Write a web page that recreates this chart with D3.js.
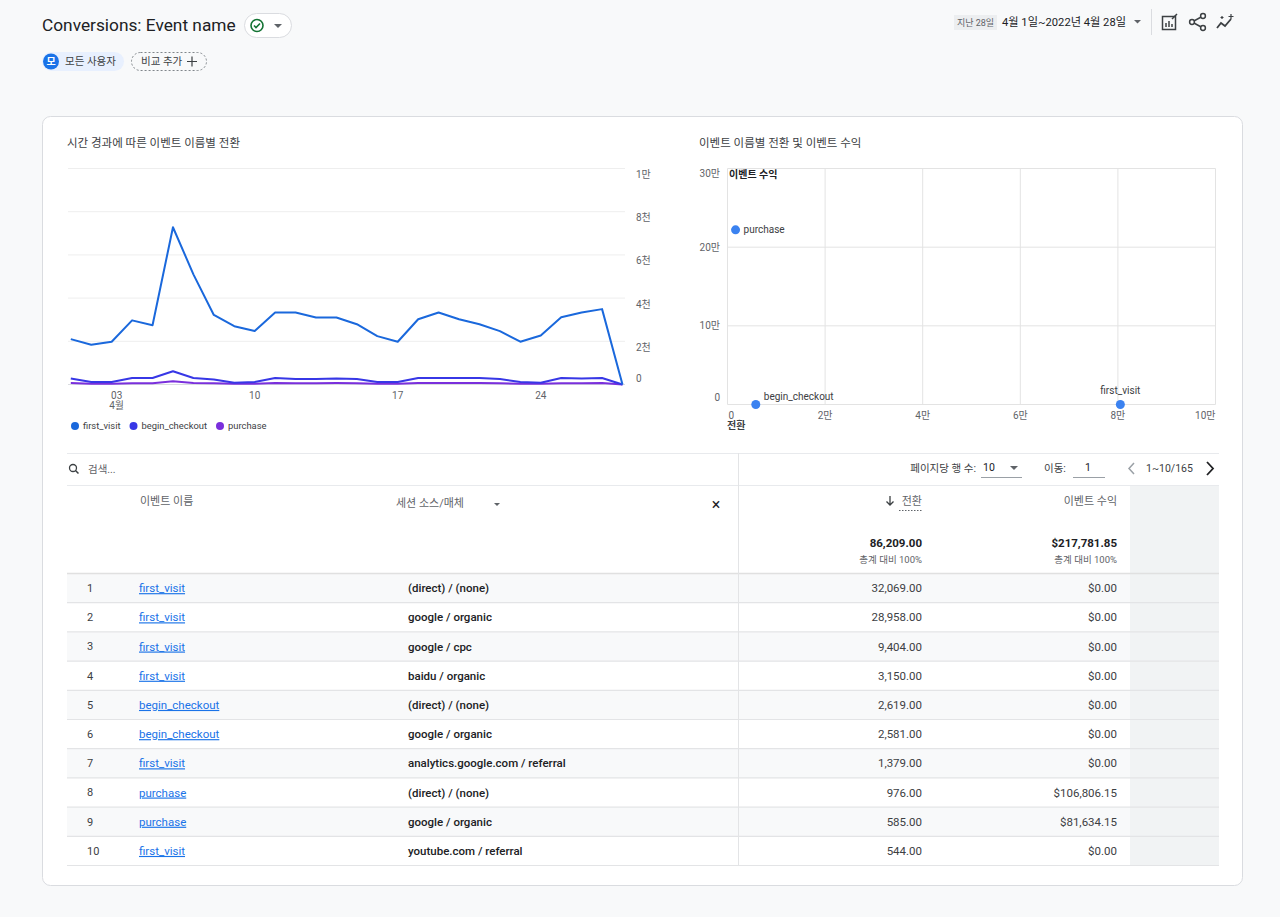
<!DOCTYPE html>
<html>
<head>
<meta charset="utf-8">
<script src="https://cdn.jsdelivr.net/npm/d3@7"></script>
<style>
html, body { margin: 0; padding: 0; background: #f8f9fa; }
svg { display: block; font-family: Roboto, "Noto Sans CJK KR", sans-serif; }
</style>
</head>
<body>
<svg id="page" width="1280" height="917"></svg>
<script>
// ---- data ----
const days = [1,2,3,4,5,6,7,8,9,10,11,12,13,14,15,16,17,18,19,20,21,22,23,24,25,26,27,28];
const firstVisit = [2100,1840,1980,2970,2740,7280,5100,3220,2700,2480,3330,3330,3100,3100,2790,2240,1980,3020,3330,3020,2790,2470,1980,2270,3110,3330,3490,0];
const beginCheckout = [280,120,120,300,300,610,300,230,80,120,300,250,250,280,250,120,120,300,300,300,300,250,120,80,300,280,300,0];
const purchase = [70,40,40,60,60,150,70,60,30,40,70,60,60,70,60,40,40,70,70,70,70,60,40,30,60,60,70,0];
const seriesNames = ['first_visit', 'begin_checkout', 'purchase'];
const seriesColors = ['#1a68dc', '#3737e6', '#7a2fdc'];
const lineTicks = [0, 2000, 4000, 6000, 8000, 10000];
const lineTickLabels = ['0', '2천', '4천', '6천', '8천', '1만'];
const dayTicks = [3, 10, 17, 24];
const dayTickLabels = ['03', '10', '17', '24'];

const scatterNames = ['purchase', 'begin_checkout', 'first_visit'];
const scatterConv = [1650, 5800, 80500];
const scatterRevenue = [222000, 0, 0];
const scatterXTicks = [0, 20000, 40000, 60000, 80000, 100000];
const scatterXLabels = ['0', '2만', '4만', '6만', '8만', '10만'];
const scatterYTicks = [0, 100000, 200000, 300000];
const scatterYLabels = ['0', '10만', '20만', '30만'];

const rowEvents = ['first_visit','first_visit','first_visit','first_visit','begin_checkout','begin_checkout','first_visit','purchase','purchase','first_visit'];
const rowSources = ['(direct) / (none)','google / organic','google / cpc','baidu / organic','(direct) / (none)','google / organic','analytics.google.com / referral','(direct) / (none)','google / organic','youtube.com / referral'];
const rowConversions = [32069, 28958, 9404, 3150, 2619, 2581, 1379, 976, 585, 544];
const rowRevenue = [0, 0, 0, 0, 0, 0, 0, 106806.15, 81634.15, 0];
const totalConversions = 86209;
const totalRevenue = 217781.85;

const svg = d3.select('#page');
const grey = '#5f6368', dark = '#202124', mid = '#3c4043';

function txt(x, y, s, o = {}) {
  return svg.append('text').attr('x', x).attr('y', y).attr('dy', '0.35em')
    .attr('font-size', o.size || 11).attr('fill', o.fill || mid)
    .attr('font-weight', o.weight || 400)
    .attr('text-anchor', o.anchor || 'start').text(s);
}

// ---- page header ----
txt(42, 25, 'Conversions: Event name', { size: 17.3, fill: dark });
svg.append('rect').attr('x', 244.5).attr('y', 13.5).attr('width', 47).attr('height', 24).attr('rx', 12)
  .attr('fill', '#fff').attr('stroke', '#dadce0');
svg.append('circle').attr('cx', 257).attr('cy', 25.5).attr('r', 6).attr('fill', 'none').attr('stroke', '#137333').attr('stroke-width', 1.6);
svg.append('path').attr('d', 'M254,25.5 l2,2 l4,-4').attr('fill', 'none').attr('stroke', '#137333').attr('stroke-width', 1.6);
svg.append('path').attr('d', 'M274,24 h8 l-4,4 z').attr('fill', grey);

svg.append('rect').attr('x', 42).attr('y', 52).attr('width', 82).attr('height', 19).attr('rx', 9.5).attr('fill', '#e8f0fe');
svg.append('circle').attr('cx', 51).attr('cy', 61.5).attr('r', 8).attr('fill', '#1a73e8');
txt(51, 61.5, '모', { size: 10, fill: '#fff', anchor: 'middle', weight: 700 });
txt(65, 61.5, '모든 사용자', { size: 10.5, fill: mid });
svg.append('rect').attr('x', 131.5).attr('y', 52.5).attr('width', 75).attr('height', 18).attr('rx', 9)
  .attr('fill', 'none').attr('stroke', '#80868b').attr('stroke-dasharray', '2,2');
txt(141, 61.5, '비교 추가', { size: 10.5, fill: mid });
svg.append('path').attr('d', 'M192,56.5 v10 M187,61.5 h10').attr('stroke', mid).attr('stroke-width', 1.2);

svg.append('rect').attr('x', 954).attr('y', 15).attr('width', 43).attr('height', 15).attr('fill', '#eceef0');
txt(975.5, 22.5, '지난 28일', { size: 9, fill: grey, anchor: 'middle' });
txt(1002, 22.5, '4월 1일~2022년 4월 28일', { size: 11.2, fill: dark });
svg.append('path').attr('d', 'M1134,20 h7 l-3.5,3.5 z').attr('fill', grey);
svg.append('line').attr('x1', 1151.5).attr('x2', 1151.5).attr('y1', 9).attr('y2', 35).attr('stroke', '#dadce0');
// chart-edit icon
svg.append('rect').attr('x', 1162.5).attr('y', 16.5).attr('width', 13).attr('height', 13).attr('fill', 'none').attr('stroke', mid).attr('stroke-width', 1.5);
svg.append('path').attr('d', 'M1166,27 v-4 M1169,27 v-6 M1172,27 v-3 M1172,19 l5,-5').attr('stroke', mid).attr('stroke-width', 1.5);
// share icon
svg.append('path').attr('d', 'M1203,16 L1192,22 L1203,28').attr('fill', 'none').attr('stroke', mid).attr('stroke-width', 1.5);
[[1203, 16], [1192, 22], [1203, 28]].forEach(p => svg.append('circle').attr('cx', p[0]).attr('cy', p[1]).attr('r', 2.4).attr('fill', '#fff').attr('stroke', mid).attr('stroke-width', 1.5));
// insights icon
svg.append('path').attr('d', 'M1217,28 l4,-5 l4,3 l6,-7').attr('fill', 'none').attr('stroke', mid).attr('stroke-width', 1.8);
svg.append('path').attr('d', 'M1231,14 v5 M1228.5,16.5 h5 M1222,16 v3 M1220.5,17.5 h3').attr('stroke', mid).attr('stroke-width', 1.2);

// ---- card ----
svg.append('rect').attr('x', 42.5).attr('y', 116.5).attr('width', 1200).attr('height', 769).attr('rx', 8)
  .attr('fill', '#fff').attr('stroke', '#dadce0');

txt(67, 143, '시간 경과에 따른 이벤트 이름별 전환', { size: 11.5, fill: mid });
txt(699, 143, '이벤트 이름별 전환 및 이벤트 수익', { size: 11.5, fill: mid });

// ---- line chart ----
const lx = d3.scaleLinear().domain([1, 28]).range([70.8, 622.5]);
const ly = d3.scaleLinear().domain([0, 10000]).range([384.5, 168.5]);
const lg = svg.append('g');
lg.selectAll('line.grid').data(lineTicks).join('line').attr('class', 'grid')
  .attr('x1', 68).attr('x2', 625).attr('y1', d => ly(d)).attr('y2', d => ly(d))
  .attr('stroke', d => d === 0 ? '#dadce0' : '#eeeeee');
lg.selectAll('text.yl').data(lineTicks).join('text').attr('class', 'yl')
  .attr('x', 636).attr('y', d => d === 0 ? ly(d) - 6 : ly(d) + 6).attr('dy', '0.35em')
  .attr('font-size', 10).attr('fill', grey).text((d, i) => lineTickLabels[i]);
lg.selectAll('text.xl').data(dayTicks).join('text').attr('class', 'xl')
  .attr('x', d => lx(d) + (d === 3 ? 5 : 0)).attr('y', 395).attr('dy', '0.35em').attr('text-anchor', 'middle')
  .attr('font-size', 10).attr('fill', grey).text((d, i) => dayTickLabels[i]);
txt(lx(3) + 5, 405, '4월', { size: 10, fill: grey, anchor: 'middle' });

const lineGen = d3.line().x((d, i) => lx(days[i])).y(d => ly(d));
const series = [firstVisit, beginCheckout, purchase];
series.slice().reverse().forEach((s, j) => {
  const i = series.length - 1 - j;
  lg.append('path').attr('d', lineGen(s)).attr('fill', 'none')
    .attr('stroke', seriesColors[i]).attr('stroke-width', 2).attr('stroke-linejoin', 'round');
});

// legend
let legX = 75;
seriesNames.forEach((n, i) => {
  lg.append('circle').attr('cx', legX).attr('cy', 426).attr('r', 4).attr('fill', seriesColors[i]);
  const t = lg.append('text').attr('x', legX + 8).attr('y', 426).attr('dy', '0.35em')
    .attr('font-size', 9.4).attr('fill', mid).text(n);
  legX += 8 + t.node().getComputedTextLength() + 13;
});

// ---- scatter chart ----
const sx = d3.scaleLinear().domain([0, 100000]).range([727.5, 1215.5]);
const sy = d3.scaleLinear().domain([0, 300000]).range([404.5, 168.5]);
const sg = svg.append('g');
sg.selectAll('line.vg').data(scatterXTicks).join('line').attr('class', 'vg')
  .attr('x1', d => sx(d)).attr('x2', d => sx(d)).attr('y1', sy(300000)).attr('y2', sy(0))
  .attr('stroke', '#e3e3e3');
sg.selectAll('line.hg').data(scatterYTicks).join('line').attr('class', 'hg')
  .attr('x1', sx(0)).attr('x2', sx(100000)).attr('y1', d => sy(d)).attr('y2', d => sy(d))
  .attr('stroke', '#e3e3e3');
sg.selectAll('text.yl').data(scatterYTicks).join('text').attr('class', 'yl')
  .attr('x', 720).attr('y', d => sy(d) + (d === 300000 ? 5 : d === 0 ? -7 : 0)).attr('dy', '0.35em')
  .attr('text-anchor', 'end').attr('font-size', 10).attr('fill', grey).text((d, i) => scatterYLabels[i]);
sg.selectAll('text.xl').data(scatterXTicks).join('text').attr('class', 'xl')
  .attr('x', d => sx(d) + (d === 0 ? 1 : 0))
  .attr('text-anchor', d => d === 0 ? 'start' : d === 100000 ? 'end' : 'middle')
  .attr('y', 415).attr('dy', '0.35em').attr('font-size', 10).attr('fill', grey)
  .text((d, i) => scatterXLabels[i]);
txt(727, 425, '전환', { size: 10, fill: mid, weight: 700 });
txt(729, 174, '이벤트 수익', { size: 10, fill: dark, weight: 700 });

sg.selectAll('circle.pt').data(scatterNames).join('circle').attr('class', 'pt')
  .attr('cx', (d, i) => sx(scatterConv[i])).attr('cy', (d, i) => sy(scatterRevenue[i]))
  .attr('r', 4.5).attr('fill', '#3b82f0');
sg.selectAll('text.pl').data(scatterNames).join('text').attr('class', 'pl')
  .attr('x', (d, i) => sx(scatterConv[i]) + (d === 'first_visit' ? 0 : 8))
  .attr('y', (d, i) => sy(scatterRevenue[i]) + (d === 'purchase' ? 0 : d === 'begin_checkout' ? -8 : -14))
  .attr('dy', '0.35em').attr('text-anchor', d => d === 'first_visit' ? 'middle' : 'start')
  .attr('font-size', 10).attr('fill', mid).text(d => d);

// ---- table ----
const tL = 67, tR = 1219, divX = 738.5;
const rowTop = 574, rowH = 29.2;
const rowY = d3.scaleLinear().domain([0, 1]).range([rowTop, rowTop + rowH]);
const tg = svg.append('g');

tg.append('rect').attr('x', 1130).attr('y', 485).attr('width', tR - 1130).attr('height', 381).attr('fill', '#f1f3f4');
tg.selectAll('rect.row').data(rowEvents).join('rect').attr('class', 'row')
  .attr('x', tL).attr('y', (d, i) => rowY(i)).attr('width', 1130 - tL).attr('height', rowH)
  .attr('fill', (d, i) => i % 2 === 0 ? '#f8f9fa' : '#fff');
[453.5, 485.5].forEach(y => tg.append('line').attr('x1', tL).attr('x2', tR).attr('y1', y).attr('y2', y).attr('stroke', '#e8eaed'));
tg.append('line').attr('x1', tL).attr('x2', tR).attr('y1', 573.5).attr('y2', 573.5).attr('stroke', '#e0e0e0').attr('stroke-width', 1.5);
tg.selectAll('line.sep').data(rowEvents).join('line').attr('class', 'sep')
  .attr('x1', tL).attr('x2', tR).attr('y1', (d, i) => rowY(i + 1) - 0.5).attr('y2', (d, i) => rowY(i + 1) - 0.5)
  .attr('stroke', '#e3e4e6').attr('stroke-width', 1.2);
tg.append('line').attr('x1', divX).attr('x2', divX).attr('y1', 453).attr('y2', 866).attr('stroke', '#e3e4e6');

// search + pagination
svg.append('circle').attr('cx', 73).attr('cy', 468).attr('r', 3.5).attr('fill', 'none').attr('stroke', mid).attr('stroke-width', 1.3);
svg.append('line').attr('x1', 75.5).attr('y1', 470.5).attr('x2', 78.5).attr('y2', 473.5).attr('stroke', mid).attr('stroke-width', 1.5);
txt(88, 469, '검색...', { size: 10.5, fill: grey });
txt(976, 468, '페이지당 행 수:', { size: 10.5, fill: mid, anchor: 'end' });
txt(983, 467, '10', { size: 10.5, fill: dark });
svg.append('path').attr('d', 'M1010,466 h8 l-4,4 z').attr('fill', grey);
svg.append('line').attr('x1', 981).attr('x2', 1022).attr('y1', 477.5).attr('y2', 477.5).attr('stroke', '#9aa0a6');
txt(1044, 468, '이동:', { size: 10.5, fill: mid });
txt(1088, 467, '1', { size: 10.5, fill: dark, anchor: 'middle' });
svg.append('line').attr('x1', 1073).attr('x2', 1105).attr('y1', 477.5).attr('y2', 477.5).attr('stroke', '#9aa0a6');
svg.append('path').attr('d', 'M1134,463 l-5,5.5 l5,5.5').attr('fill', 'none').attr('stroke', '#9aa0a6').attr('stroke-width', 1.5);
txt(1146, 468, '1~10/165', { size: 10.5, fill: mid });
svg.append('path').attr('d', 'M1207,462 l6,6.5 l-6,6.5').attr('fill', 'none').attr('stroke', dark).attr('stroke-width', 1.8);

// header row
txt(140, 501, '이벤트 이름', { size: 11, fill: grey });
txt(396, 503, '세션 소스/매체', { size: 11, fill: grey });
svg.append('path').attr('d', 'M494,503 h6 l-3,3 z').attr('fill', grey);
txt(716, 504, '×', { size: 16, fill: dark, anchor: 'middle' });
txt(922, 501, '전환', { size: 11, fill: grey, anchor: 'end' });
svg.append('line').attr('x1', 899).attr('x2', 922).attr('y1', 510.5).attr('y2', 510.5).attr('stroke', grey).attr('stroke-dasharray', '1.5,1.5');
svg.append('path').attr('d', 'M890,496 v9 M886.5,501.5 l3.5,3.5 l3.5,-3.5').attr('fill', 'none').attr('stroke', mid).attr('stroke-width', 1.3);
txt(1117, 501, '이벤트 수익', { size: 11, fill: grey, anchor: 'end' });

const fmtNum = d3.format(',.2f');
txt(922, 543, fmtNum(totalConversions), { size: 11.5, fill: dark, weight: 700, anchor: 'end' });
txt(922, 560, '총계 대비 100%', { size: 9.5, fill: grey, anchor: 'end' });
txt(1117, 543, '$' + fmtNum(totalRevenue), { size: 11.5, fill: dark, weight: 700, anchor: 'end' });
txt(1117, 560, '총계 대비 100%', { size: 9.5, fill: grey, anchor: 'end' });

const cy = i => rowY(i) + rowH / 2 - 0.5;
tg.selectAll('text.rank').data(rowEvents).join('text').attr('class', 'rank')
  .attr('x', 87).attr('y', (d, i) => cy(i)).attr('dy', '0.35em').attr('font-size', 11).attr('fill', mid)
  .text((d, i) => i + 1);
tg.selectAll('text.ev').data(rowEvents).join('text').attr('class', 'ev')
  .attr('x', 139).attr('y', (d, i) => cy(i)).attr('dy', '0.35em').attr('font-size', 11.5)
  .attr('fill', '#1a73e8').attr('text-decoration', 'underline').text(d => d);
tg.selectAll('text.src').data(rowSources).join('text').attr('class', 'src')
  .attr('x', 408).attr('y', (d, i) => cy(i)).attr('dy', '0.35em').attr('font-size', 11.5)
  .attr('font-weight', 500).attr('fill', dark).text(d => d);
tg.selectAll('text.conv').data(rowConversions).join('text').attr('class', 'conv')
  .attr('x', 922).attr('y', (d, i) => cy(i)).attr('dy', '0.35em').attr('font-size', 11.5)
  .attr('text-anchor', 'end').attr('fill', mid).text(d => fmtNum(d));
tg.selectAll('text.rev').data(rowRevenue).join('text').attr('class', 'rev')
  .attr('x', 1117).attr('y', (d, i) => cy(i)).attr('dy', '0.35em').attr('font-size', 11.5)
  .attr('text-anchor', 'end').attr('fill', mid).text(d => '$' + fmtNum(d));
</script>
</body>
</html>
